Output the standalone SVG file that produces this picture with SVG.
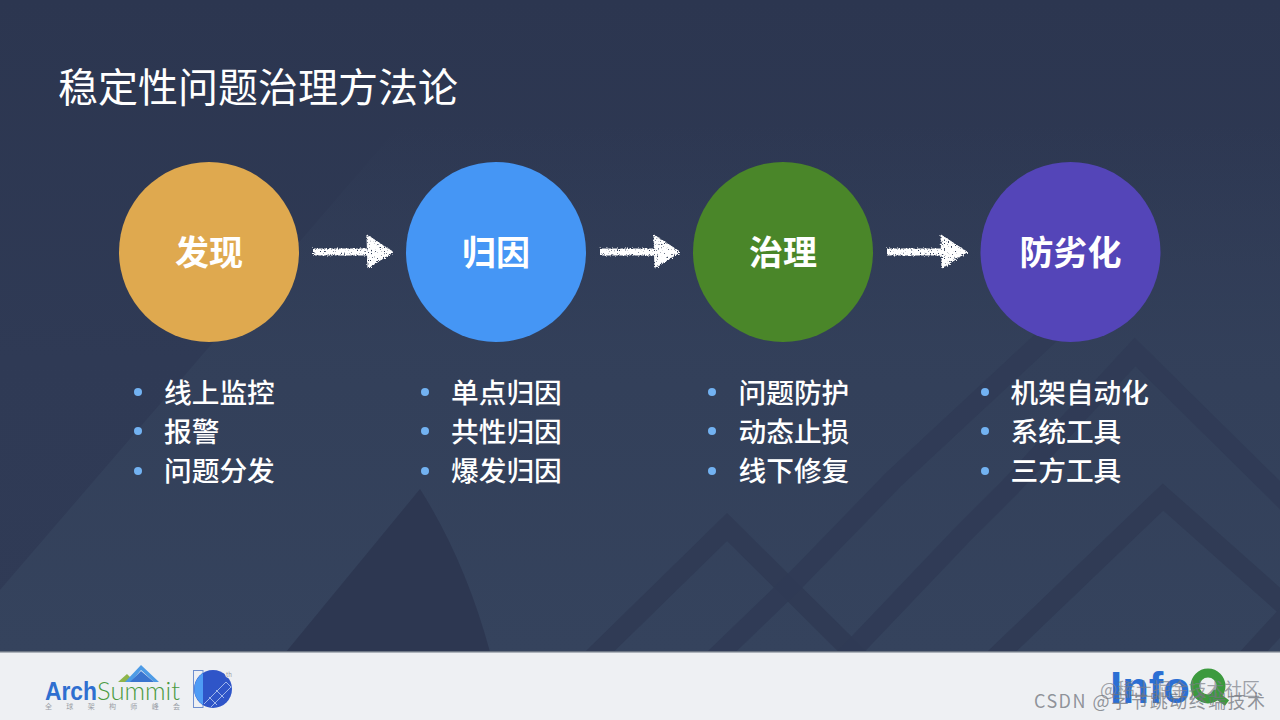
<svg xmlns="http://www.w3.org/2000/svg" width="1280" height="720" viewBox="0 0 1280 720">
<style>
text{font-family:"Noto Sans CJK SC","Noto Sans",sans-serif}
.title{font-size:40px;fill:#fff}
.n{font-size:34px;font-weight:700;fill:#fff;text-anchor:middle}
.b{font-size:27.7px;font-weight:500;fill:#fff}
.d{fill:#72b2f2}
.band{fill:none;stroke:#303b55;stroke-width:20}
.arrow{fill:#fff;stroke:#fff}
</style>
<defs>
<linearGradient id="bg" x1="0" y1="0" x2="0" y2="1"><stop offset="0" stop-color="#2c3650"/><stop offset=".55" stop-color="#2f3a55"/><stop offset="1" stop-color="#303b56"/></linearGradient>
<linearGradient id="light" gradientUnits="userSpaceOnUse" x1="0" y1="125" x2="0" y2="652"><stop offset="0" stop-color="#33405a" stop-opacity="0"/><stop offset=".45" stop-color="#33405a" stop-opacity=".95"/><stop offset="1" stop-color="#35435d"/></linearGradient>
<filter id="chalk" x="-10%" y="-30%" width="120%" height="160%">
<feTurbulence type="fractalNoise" baseFrequency=".7" numOctaves="2" seed="4" result="t"/>
<feDisplacementMap in="SourceGraphic" in2="t" scale="3.5" result="s"/>
<feColorMatrix in="t" type="matrix" values="0 0 0 0 0 0 0 0 0 0 0 0 0 0 0 -7 0 0 0 5.4" result="m"/>
<feComposite in="s" in2="m" operator="in"/>
</filter>
<clipPath id="slide"><rect width="1280" height="652"/></clipPath>
<g id="arr"><path class="arrow" stroke-width="7" d="M313 252 L372 252"/><path class="arrow" stroke-width="1" d="M367 235 L393 252 L368 268 Z"/></g>
</defs>
<rect width="1280" height="652" fill="url(#bg)"/>
<g id="background" clip-path="url(#slide)">
<path d="M400 125 L0 590 L0 652 L1280 652 L1280 125 Z" fill="url(#light)"/>
<path d="M420 489 L286 652 L490 652 Q465 560 420 489 Z" fill="#2d3751"/>
<path class="band" d="M590 661 L727 527 L862 661"/>
<path class="band" d="M712 661 L793 583 L893 480 L1080 306" opacity=".9"/>
<path class="band" d="M842 661 L960 537 L1010 487 L1135 352 L1290 505" opacity=".9"/>
<path class="band" d="M992 661 L1163 497 L1290 610"/>
<path class="band" d="M1245 661 L1290 612"/>
</g>
<rect id="footer" y="652" width="1280" height="68" fill="#eef0f3"/>
<rect y="651" width="1280" height="1.500" fill="#6d7684"/>
<text class="title" x="58" y="102">稳定性问题治理方法论</text>
<g id="connectors" filter="url(#chalk)">
<use href="#arr"/>
<use href="#arr" x="287"/>
<use href="#arr" x="574"/>
</g>
<g id="node-1"><circle cx="209" cy="252" r="90" fill="#dfa94f"/><text class="n" x="209" y="265">发现</text></g>
<g id="node-2"><circle cx="496" cy="252" r="90" fill="#4596f5"/><text class="n" x="496" y="265">归因</text></g>
<g id="node-3"><circle cx="783" cy="252" r="90" fill="#4a8629"/><text class="n" x="783" y="265">治理</text></g>
<g id="node-4"><circle cx="1070.500" cy="252" r="90" fill="#5445b8"/><text class="n" x="1070.500" y="265">防劣化</text></g>
<g id="list-1">
<circle class="d" cx="138" cy="392" r="4"/><text class="b" x="164" y="403">线上监控</text>
<circle class="d" cx="138" cy="431" r="4"/><text class="b" x="164" y="442">报警</text>
<circle class="d" cx="138" cy="471" r="4"/><text class="b" x="164" y="481">问题分发</text>
</g>
<g id="list-2">
<circle class="d" cx="425" cy="392" r="4"/><text class="b" x="451" y="403">单点归因</text>
<circle class="d" cx="425" cy="431" r="4"/><text class="b" x="451" y="442">共性归因</text>
<circle class="d" cx="425" cy="471" r="4"/><text class="b" x="451" y="481">爆发归因</text>
</g>
<g id="list-3">
<circle class="d" cx="712" cy="392" r="4"/><text class="b" x="738.500" y="403">问题防护</text>
<circle class="d" cx="712" cy="431" r="4"/><text class="b" x="738.500" y="442">动态止损</text>
<circle class="d" cx="712" cy="471" r="4"/><text class="b" x="738.500" y="481">线下修复</text>
</g>
<g id="list-4">
<circle class="d" cx="985" cy="392" r="4"/><text class="b" x="1010.500" y="403">机架自动化</text>
<circle class="d" cx="985" cy="431" r="4"/><text class="b" x="1010.500" y="442">系统工具</text>
<circle class="d" cx="985" cy="471" r="4"/><text class="b" x="1010.500" y="481">三方工具</text>
</g>
<g id="logo-archsummit">
<path d="M118 682 L127 674 L132 679 L127 682Z" fill="#8fb54a"/>
<path d="M125 682 L141 665 L159 682 L154 682 L141 670 L131 682Z" fill="#4d9be6"/>
<path d="M130 682 L141 671 L154 682Z" fill="#3a74cf"/>
<text x="45" y="700" font-size="25" font-weight="700" fill="#2f6fd0" style="font-family:'Liberation Sans',sans-serif" textLength="52" lengthAdjust="spacingAndGlyphs">Arch</text>
<text x="97" y="700" font-size="25" font-weight="300" fill="#4a9a3f" style="font-family:Lato,sans-serif" textLength="83" lengthAdjust="spacingAndGlyphs">Summit</text>
<text x="45" y="709" font-size="7" fill="#9a9ea6" textLength="135">全球架构师峰会</text>
</g>
<g id="logo-10th">
<rect x="193.500" y="670.500" width="9.500" height="37" fill="#eef0f3" stroke="#6f8fcf"/>
<circle cx="213" cy="689" r="19" fill="#2f55c8"/>
<path d="M203 673 A19 19 0 0 0 203 705 Z" fill="#4f9cf5"/>
<path d="M222 668 L226 677 L232 680 L236 690 L240 668 Z" fill="#eef0f3"/>
<path d="M204 704 L226 682 L231 687 L211 707 M209 697 L217 705 M216 690 L224 698" fill="none" stroke="#9fb6ea" stroke-width="1"/>
<text x="226" y="677" font-size="6" fill="#9a9ea6">th</text>
</g>
<g id="logo-infoq">
<text x="1110" y="703" font-size="45" font-weight="700" fill="#2b6fd4" style="font-family:'Liberation Sans',sans-serif" textLength="80" lengthAdjust="spacingAndGlyphs">Info</text>
<circle cx="1208" cy="686" r="13" fill="none" stroke="#3c9a3e" stroke-width="9"/>
<path d="M1212 692 L1227 703" stroke="#3c9a3e" stroke-width="7"/>
</g>
<g id="watermark" font-size="18">
<text x="1100" y="696" fill="#7a7e86" fill-opacity=".7" textLength="160">@稀土掘金技术社区</text>
<text x="1034" y="708" fill="#70747c" fill-opacity=".75" textLength="231">CSDN @字节跳动终端技术</text>
</g>
</svg>
